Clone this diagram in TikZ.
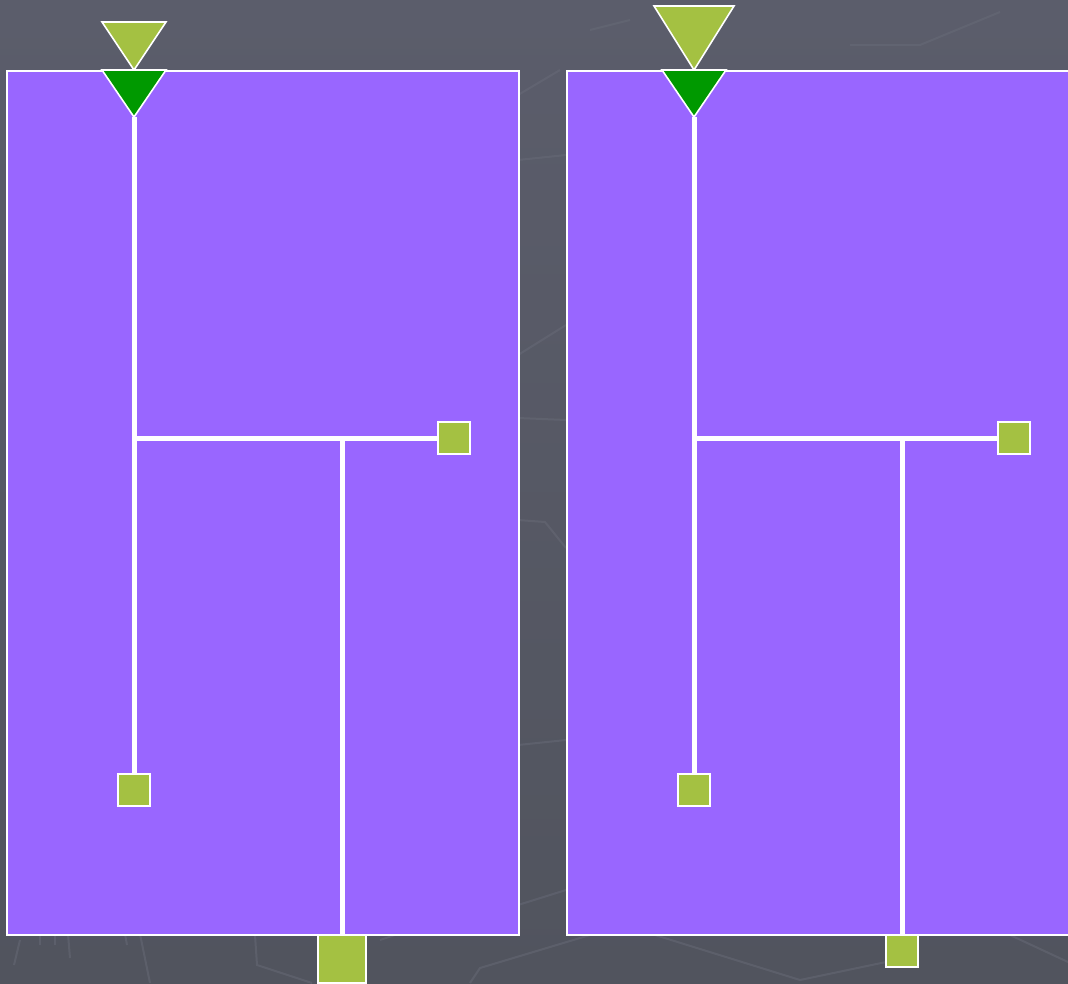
\documentclass[tikz,border=0pt]{standalone}
\usetikzlibrary{shapes.geometric}
\definecolor{bgtop}{HTML}{5B5D6B}
\definecolor{bgbot}{HTML}{51545E}
\definecolor{panel}{HTML}{9966FF}
\definecolor{lgreen}{HTML}{A4C142}
\definecolor{dgreen}{HTML}{009900}
\definecolor{faint}{HTML}{6A6D7A}
\tikzset{
  panelbox/.style={draw=white,line width=2pt,fill=panel},
  pipe/.style={draw=white,line width=5pt},
  sq/.style={draw=white,line width=2pt,fill=lgreen,minimum size=#1,inner sep=0pt},
  tri/.style={draw=white,line width=1.6pt,line join=miter},
  bgline/.style={draw=faint,line width=2pt,opacity=0.45},
}
\begin{document}
\begin{tikzpicture}[x=1pt,y=-1pt]
\useasboundingbox (0,0) rectangle (1068,983);
\shade[top color=bgtop,bottom color=bgbot] (0,0) rectangle (1068,983);
\clip (0,0) rectangle (1068,983);
% faint background texture
\draw[bgline] (255,935) -- (257,965) -- (312,983);
\draw[bgline] (380,940) -- (425,925);
\draw[bgline] (470,983) -- (480,968) -- (590,935);
\draw[bgline] (655,935) -- (800,980) -- (886,962);
\draw[bgline] (1010,935) -- (1068,962);
\draw[bgline] (140,934) -- (150,983);
\draw[bgline] (20,940) -- (14,965);
\draw[bgline] (40,934) -- (40,945); \draw[bgline] (55,934) -- (55,945); \draw[bgline] (68,934) -- (70,958);
\draw[bgline] (125,934) -- (127,945);
\draw[bgline] (518,160) -- (566,155);
\draw[bgline] (518,355) -- (566,325);
\draw[bgline] (518,418) -- (566,420);
\draw[bgline] (518,520) -- (545,522) -- (566,548);
\draw[bgline] (518,745) -- (566,740);
\draw[bgline] (518,905) -- (566,890);
\draw[bgline] (518,95) -- (560,70);
\draw[bgline] (850,45) -- (920,45) -- (1000,12);
\draw[bgline] (590,30) -- (630,20);
% panels
\node[panelbox,minimum width=512,minimum height=864,inner sep=0pt,anchor=north west] (pL) at (6,70) {};
\node[panelbox,minimum width=560,minimum height=864,inner sep=0pt,anchor=north west] (pR) at (566,70) {};
% ---- left panel ----
\coordinate (tLtip) at (134,117);
\coordinate (jL1) at (134,438);
\coordinate (jL2) at (342,438);
\coordinate (bL) at (342,934);
\node[sq=32] (sqL1) at (134,790) {};
\node[sq=32] (sqL2) at (454,438) {};
\draw[pipe] (tLtip) -- (sqL1.north);
\draw[pipe] (jL1) -- (sqL2.west);
\draw[pipe] (jL2) -- (bL);
\node[sq=48,anchor=north] (sqL3) at (bL) {};
\draw[tri,fill=lgreen] (102,22) -- (166,22) -- (134,70) -- cycle;
\draw[tri,fill=dgreen] (102,70) -- (166,70) -- (tLtip) -- cycle;
% ---- right panel ----
\coordinate (tRtip) at (694,117);
\coordinate (jR1) at (694,438);
\coordinate (jR2) at (902,438);
\coordinate (bR) at (902,934);
\node[sq=32] (sqR1) at (694,790) {};
\node[sq=32] (sqR2) at (1014,438) {};
\draw[pipe] (tRtip) -- (sqR1.north);
\draw[pipe] (jR1) -- (sqR2.west);
\draw[pipe] (jR2) -- (bR);
\node[sq=32,anchor=north] (sqR3) at (bR) {};
\draw[tri,fill=lgreen] (654,6) -- (734,6) -- (694,70) -- cycle;
\draw[tri,fill=dgreen] (662,70) -- (726,70) -- (tRtip) -- cycle;
\end{tikzpicture}
\end{document}
